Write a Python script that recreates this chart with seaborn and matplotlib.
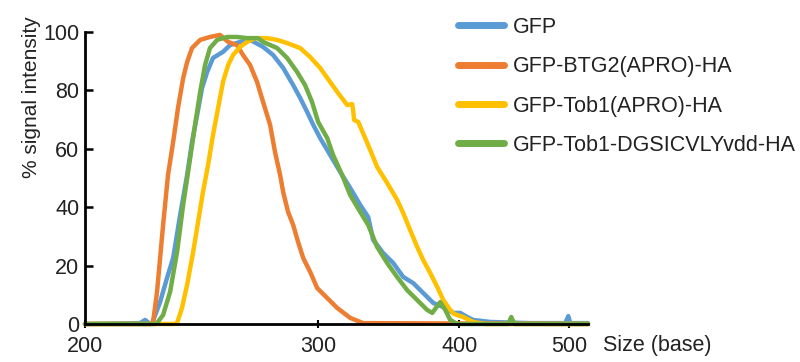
import numpy as np
import pandas as pd
import matplotlib
matplotlib.use("Agg")
import matplotlib.pyplot as plt
import seaborn as sns
from matplotlib.lines import Line2D

# ---------------- data ----------------
series_names = ["GFP", "GFP-BTG2(APRO)-HA", "GFP-Tob1(APRO)-HA", "GFP-Tob1-DGSICVLYvdd-HA"]
series_colors = ["#5B9BD5", "#ED7D31", "#FFC000", "#70AD47"]

gfp_x = [200, 223.6, 225.8, 227.9, 228.8, 232.2, 235.2, 237.8, 240.8, 243.8, 245.9, 248.1, 250.2,
         252.4, 254.9, 259.2, 262.2, 266.5, 270.8, 276.4, 280.7, 285.0, 289.3, 292.3, 295.3, 297.9,
         301.4, 308.5, 315.6, 322.7, 329.8, 335.5, 339.0, 346.1, 353.2, 360.3, 367.4, 374.5, 381.6,
         388.7, 395.7, 400.9, 407.3, 412.7, 428.2, 464.5, 496.4, 499.1, 500.9, 517]
gfp_y = [0, 0.3, 1.4, 0, 0.3, 7.5, 15.8, 22.6, 37.3, 51.0, 62.3, 71.6, 80.8,
         86.3, 91.1, 93.2, 95.5, 96.6, 97.3, 94.9, 92.1, 87.7, 81.8, 77.4, 72.6, 68.2,
         63.7, 57.9, 52.1, 46.6, 40.8, 36.6, 28.8, 24.3, 20.9, 16.1, 14.0, 10.6, 7.2,
         5.8, 3.8, 3.8, 2.4, 1.4, 0.7, 0.3, 0.3, 2.7, 0.3, 0.3]

btg2_x = [200, 227.9, 229.2, 230.9, 233.5, 235.6, 237.8, 239.9, 242.1, 243.8, 245.9, 249.4, 253.6,
          257.9, 261.4, 265.2, 267.8, 270.8, 273.8, 276.4, 279.4, 281.5, 283.7, 285.0, 287.1, 289.3,
          291.4, 293.6, 296.6, 299.6, 306.4, 313.5, 322.7, 331.9, 517]
btg2_y = [0, 0, 0.7, 11.0, 33.9, 51.0, 62.3, 74.0, 84.2, 89.7, 94.5, 97.3, 98.3,
          99.0, 96.6, 95.5, 92.1, 88.7, 82.9, 76.0, 68.2, 58.9, 51.0, 45.2, 38.4, 33.9,
          28.1, 22.6, 17.8, 12.3, 8.9, 5.5, 2.1, 0.3, 0]

tob1_x = [200, 238.6, 239.5, 241.6, 243.8, 246.4, 248.5, 250.6, 252.8, 254.9, 257.1, 259.2, 261.4,
          263.5, 266.5, 269.5, 273.0, 278.1, 282.4, 286.7, 292.3, 296.6, 301.4, 308.5, 313.5, 320.6,
          324.1, 324.8, 325.5, 328.4, 333.3, 336.9, 341.8, 348.9, 356.0, 360.3, 365.2, 370.2, 374.5,
          379.4, 384.4, 388.7, 393.6, 396.5, 403.6, 412.7, 423.6, 517]
tob1_y = [0, 0, 0.3, 5.5, 13.4, 24.7, 34.9, 45.2, 54.5, 64.7, 74.0, 82.9, 88.7,
          92.1, 94.9, 96.6, 97.9, 97.9, 97.3, 96.2, 94.5, 91.4, 87.7, 82.9, 79.5, 75.0,
          75.3, 73.3, 69.9, 69.2, 63.7, 59.6, 53.8, 48.3, 42.5, 38.0, 32.2, 26.4, 21.9,
          17.5, 12.7, 8.2, 4.8, 3.4, 2.4, 0.7, 0, 0]

dgs_x = [200, 230.0, 230.9, 233.5, 236.5, 239.5, 242.1, 245.1, 247.2, 249.4, 251.5, 253.6, 256.7,
         261.0, 265.2, 269.5, 274.2, 276.4, 282.4, 286.7, 291.0, 294.4, 297.4, 300.0, 306.4, 310.6,
         317.0, 322.7, 329.8, 335.5, 341.8, 348.9, 356.0, 363.1, 370.2, 377.3, 380.9, 386.5, 390.1,
         393.6, 398.6, 444.5, 447.3, 450.0, 517]
dgs_y = [0, 0, 0.3, 3.1, 11.0, 24.7, 40.8, 56.8, 68.2, 79.5, 88.7, 94.5, 97.3,
         98.3, 98.3, 97.9, 97.9, 96.6, 94.5, 91.1, 86.3, 81.8, 76.0, 69.2, 63.7, 57.9,
         51.0, 44.2, 38.4, 33.9, 26.4, 20.9, 16.1, 11.6, 8.2, 4.8, 3.8, 7.5, 4.8,
         1.4, 0, 0, 2.4, 0, 0]

x_ticks = [200, 300, 400, 500]
y_ticks = [0, 20, 40, 60, 80, 100]

frames = []
for name, xs, ys in zip(series_names, [gfp_x, btg2_x, tob1_x, dgs_x], [gfp_y, btg2_y, tob1_y, dgs_y]):
    frames.append(pd.DataFrame({"size": xs, "signal": ys, "series": name}))
df = pd.concat(frames, ignore_index=True)

# ---------------- size-calibrated axis scale ----------------
scale_sizes = np.array([100.0, 200.0, 300.0, 400.0, 500.0, 600.0])
scale_pos = np.array([-233.0, 0.0, 233.0, 374.0, 484.0, 594.0])

def fwd(v):
    return np.interp(v, scale_sizes, scale_pos)

def inv(v):
    return np.interp(v, scale_pos, scale_sizes)

# ---------------- figure ----------------
sns.set_style("ticks")
plt.rcParams["font.family"] = ["Liberation Sans", "DejaVu Sans"]

fig = plt.figure(figsize=(8.0, 3.62), dpi=100)
ax = fig.add_axes([85 / 800, 38 / 362, 503 / 800, 292 / 362])

palette = dict(zip(series_names, series_colors))
sns.lineplot(data=df, x="size", y="signal", hue="series", hue_order=series_names,
             palette=palette, estimator=None, sort=False, linewidth=3.2, ax=ax,
             legend=False)
for ln in ax.lines:
    ln.set_clip_on(False)
    ln.set_solid_joinstyle("round")

ax.set_xscale("function", functions=(fwd, inv))
ax.set_xlim(200, 517)
ax.set_ylim(0, 100)
ax.set_xticks(x_ticks)
ax.set_xticklabels([str(t) for t in x_ticks])
ax.set_yticks(y_ticks)
ax.xaxis.set_minor_locator(matplotlib.ticker.NullLocator())

for side in ["top", "right"]:
    ax.spines[side].set_visible(False)
for side in ["left", "bottom"]:
    ax.spines[side].set_linewidth(2.0)
    ax.spines[side].set_color("black")
    ax.spines[side].set_zorder(5)

ax.tick_params(axis="y", direction="in", length=6, width=1.8, labelsize=15.5, pad=4, colors="black")
ax.tick_params(axis="x", direction="inout", length=6, width=1.5, labelsize=15.5, pad=6, colors="black")
for lbl in ax.get_xticklabels() + ax.get_yticklabels():
    lbl.set_color("#222222")

ax.set_xlabel("Size (base)", fontsize=15.5, color="#222222")
ax.xaxis.set_label_coords(1.03, -0.072)
ax.xaxis.label.set_ha("left")
ax.xaxis.label.set_va("center")

ax.set_ylabel("% signal intensity", fontsize=15, color="#222222")
ax.yaxis.set_label_coords(-0.107, 0.777)
ax.yaxis.label.set_va("center")
ax.yaxis.label.set_ha("center")

handles = [Line2D([0], [0], color=c, linewidth=5, solid_capstyle="round") for c in series_colors]
fig.legend(handles, series_names, loc="upper left", bbox_to_anchor=(458 / 800, 1 - 17 / 362),
           frameon=False, fontsize=15.5, handlelength=2.15, handletextpad=0.4,
           labelspacing=0.85, borderpad=0, borderaxespad=0, labelcolor="#222222")

ax.set_facecolor("white")
fig.patch.set_facecolor("white")
fig.savefig("out.png", dpi=100, facecolor="white")
